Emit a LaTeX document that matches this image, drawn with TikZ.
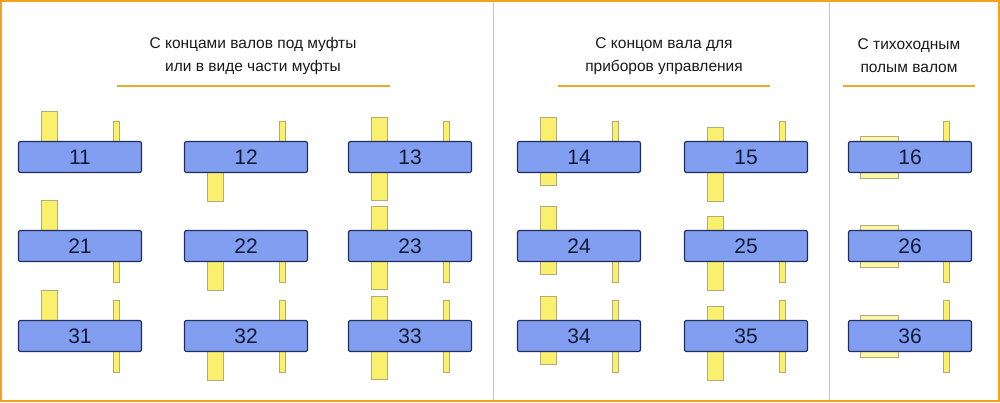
\documentclass[tikz,border=0pt]{standalone}
\usepackage{fontspec}
\setmainfont{Liberation Sans}
\usetikzlibrary{calc}
\definecolor{boxblue}{RGB}{130,158,240}
\definecolor{boxedge}{RGB}{30,45,90}
\definecolor{shaft}{RGB}{250,240,110}
\definecolor{shaftedge}{RGB}{180,170,120}
\definecolor{frameor}{RGB}{245,160,30}
\definecolor{lineor}{RGB}{235,170,40}

\begin{document}
\begin{tikzpicture}[x=1pt,y=-1pt]
    \tikzset{redbox/.style={fill=boxblue,draw=boxedge,line width=1.2pt,rounded corners=2pt,
        minimum width=123pt,minimum height=31pt,inner sep=0pt,font=\fontsize{21}{21}\selectfont,text=boxedge!60!black},
      shaftbox/.style={fill=shaft,draw=shaftedge,line width=0.8pt},
      hollowbox/.style={fill=shaft!60,draw=shaftedge,line width=0.8pt},
      headtext/.style={align=center,font=\fontsize{15.5}{23}\selectfont,text=black!90}}
    
    \useasboundingbox (0,0) rectangle (1000,402);
    \draw[frameor,line width=2.5pt] (1,1) rectangle (999,401);
    \draw[lineor!70,line width=1pt] (493,2) -- (493,400);
    \draw[lineor!70,line width=1pt] (829,2) -- (829,400);
    
    \node[headtext] (h1) at (253,56) {С концами валов под муфты\\или в виде части муфты};
    \node[headtext] (h2) at (664,56) {С концом вала для\\приборов управления};
    \node[headtext] (h3) at (909,56) {С тихоходным\\полым валом};
    \draw[lineor,line width=2pt] (117,86) -- (390,86);
    \draw[lineor,line width=2pt] (558,86) -- (770,86);
    \draw[lineor,line width=2pt] (843,86) -- (975,86);
    
    % shafts first, boxes drawn on top
    \foreach \r/\y in {1/157,2/246,3/336}{
      \foreach \c/\x in {1/80,2/246,3/410,4/579,5/746,6/910}{
        % slow shaft (right)
        \ifnum\r=2\else
          \draw[shaftbox] (\x+33,\y-36) rectangle (\x+39,\y);
        \fi
        \ifnum\r=1\else
          \draw[shaftbox] (\x+33,\y) rectangle (\x+39,\y+36);
        \fi
        % fast shaft (left)
        \ifcase\c\or
          \draw[shaftbox] (\x-39,\y-46) rectangle (\x-23,\y);
        \or
          \draw[shaftbox] (\x-39,\y) rectangle (\x-23,\y+44);
        \or
          \draw[shaftbox] (\x-39,\y-40) rectangle (\x-23,\y+43);
        \or
          \draw[shaftbox] (\x-39,\y-40) rectangle (\x-23,\y+28);
        \or
          \draw[shaftbox] (\x-39,\y-30) rectangle (\x-23,\y+44);
        \or
          \draw[hollowbox] (\x-50,\y-21) rectangle (\x-12,\y+21);
        \fi
        \node[redbox] (b\r\c) at (\x,\y) {\r\c};
      }
    }
\end{tikzpicture}
\end{document}
